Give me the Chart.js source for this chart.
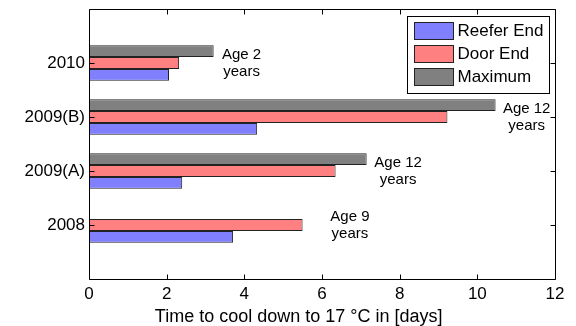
<!DOCTYPE html>
<html>
<head>
<meta charset="utf-8">
<script src="https://cdn.jsdelivr.net/npm/chart.js@4/dist/chart.umd.min.js"></script>
<style>
  html, body { margin: 0; padding: 0; background: #fff; }
  #wrap { width: 576px; height: 326px; }
</style>
</head>
<body>
<div id="wrap"><canvas id="c" width="576" height="326"></canvas></div>
<script>
// Cooling time per trial (days), top to bottom as drawn
const categories = ['2010', '2009(B)', '2009(A)', '2008'];
const reeferEnd = [2.06, 4.33, 2.40, 3.71];
const doorEnd   = [2.32, 9.23, 6.35, 5.50];
const maximum   = [3.21, 10.47, 7.15, null];

// Container age notes next to each group
const ageLine1 = ['Age 2', 'Age 12', 'Age 12', 'Age 9'];
const ageLine2 = ['years', 'years', 'years', 'years'];
const ageNoteDays = [3.93, 11.27, 7.96, 6.72];   // horizontal anchor, in days

const xTicks = [0, 2, 4, 6, 8, 10, 12];
const xTitle = 'Time to cool down to 17 °C in [days]';

// Empty slots above and below give half-spaced margins around the groups
const pad = arr => [null, ...arr, null];
const yLabels = ['', ...categories, ''];

const FONT = '"Liberation Sans", Arial, Helvetica, sans-serif';

const boxAndTicks = {
  id: 'boxAndTicks',
  afterDatasetsDraw(chart) {
    const { ctx, chartArea: a, scales: { x, y } } = chart;
    ctx.save();
    ctx.strokeStyle = '#000';
    ctx.lineWidth = 1;
    const L = Math.round(a.left) + 0.5, R = Math.round(a.right) + 0.5;
    const T = Math.round(a.top) + 0.5, B = Math.round(a.bottom) + 0.5;
    ctx.beginPath();
    ctx.rect(L, T, R - L, B - T);
    ctx.stroke();
    const tl = 5;
    ctx.beginPath();
    xTicks.forEach(v => {
      const px = Math.round(x.getPixelForValue(v)) + 0.5;
      ctx.moveTo(px, B); ctx.lineTo(px, B - tl);
      ctx.moveTo(px, T); ctx.lineTo(px, T + tl);
    });
    categories.forEach((c, i) => {
      const py = Math.round(y.getPixelForValue(i + 1)) + 0.5;
      ctx.moveTo(L, py); ctx.lineTo(L + tl, py);
      ctx.moveTo(R, py); ctx.lineTo(R - tl, py);
    });
    ctx.stroke();

    // Axis title, slightly left of the axes centre
    ctx.fillStyle = '#000';
    ctx.font = '18px ' + FONT;
    ctx.textAlign = 'center';
    ctx.textBaseline = 'middle';
    ctx.fillText(xTitle, a.left + (a.right - a.left) * 0.45, a.bottom + 38);

    // Age notes
    ctx.font = '15px ' + FONT;
    categories.forEach((c, i) => {
      const px = x.getPixelForValue(ageNoteDays[i]);
      const py = y.getPixelForValue(i + 1);
      ctx.fillText(ageLine1[i], px, py - 8);
      ctx.fillText(ageLine2[i], px, py + 9);
    });

    // Legend box, top right inside the axes
    const items = chart.data.datasets.slice().reverse();
    ctx.font = '17px ' + FONT;
    const textW = Math.max(...items.map(d => ctx.measureText(d.label).width));
    const padL = 7, sw = 39, gap = 4, padR = 6, rowH = 23;
    const bw = Math.round(padL + sw + gap + textW + padR);
    const bh = 8 + rowH * items.length - 3 + 3;
    const bx = Math.round(a.right - 6 - bw) + 0.5;
    const by = Math.round(a.top + 7) + 0.5;
    ctx.fillStyle = '#fff';
    ctx.fillRect(bx, by, bw, bh);
    ctx.strokeStyle = '#000';
    ctx.strokeRect(bx, by, bw, bh);
    ctx.textAlign = 'left';
    items.forEach((d, k) => {
      const cy = by + 14 + k * rowH;
      ctx.fillStyle = d.backgroundColor;
      ctx.fillRect(bx + padL, Math.round(cy - 9) + 0.5, sw, 17);
      ctx.strokeStyle = '#222';
      ctx.strokeRect(bx + padL, Math.round(cy - 9) + 0.5, sw, 17);
      ctx.fillStyle = '#000';
      ctx.fillText(d.label, bx + padL + sw + gap, cy + 1);
    });
    ctx.restore();
  }
};

new Chart(document.getElementById('c'), {
  type: 'bar',
  data: {
    labels: yLabels,
    datasets: [
      { label: 'Maximum',    data: pad(maximum),   backgroundColor: '#808080', borderColor: '#222', borderWidth: 1 },
      { label: 'Door End',   data: pad(doorEnd),   backgroundColor: '#FF8080', borderColor: '#222', borderWidth: 1 },
      { label: 'Reefer End', data: pad(reeferEnd), backgroundColor: '#8080FF', borderColor: '#222', borderWidth: 1 }
    ]
  },
  options: {
    indexAxis: 'y',
    responsive: false,
    animation: false,
    layout: { padding: { top: 9, right: 21, bottom: 0, left: 0 } },
    datasets: { bar: { categoryPercentage: 0.66, barPercentage: 1.0, borderSkipped: false } },
    plugins: { legend: { display: false }, tooltip: { enabled: false } },
    scales: {
      x: {
        type: 'linear', min: 0, max: 12,
        border: { display: false },
        grid: { display: false, drawTicks: false },
        ticks: { stepSize: 2, color: '#000', padding: 5, font: { family: FONT, size: 17 } },
        afterFit(s) {
          s.height = 47;
          s.paddingLeft = 0; s.paddingRight = 0; s.paddingTop = 0; s.paddingBottom = 0;
        }
      },
      y: {
        type: 'category', offset: false,
        border: { display: false },
        grid: { display: false, drawTicks: false },
        ticks: { color: '#000', padding: 4, autoSkip: false, font: { family: FONT, size: 17 } },
        afterFit(s) {
          s.width = 89;
          s.paddingLeft = 0; s.paddingRight = 0; s.paddingTop = 0; s.paddingBottom = 0;
        }
      }
    }
  },
  plugins: [boxAndTicks]
});
</script>
</body>
</html>
